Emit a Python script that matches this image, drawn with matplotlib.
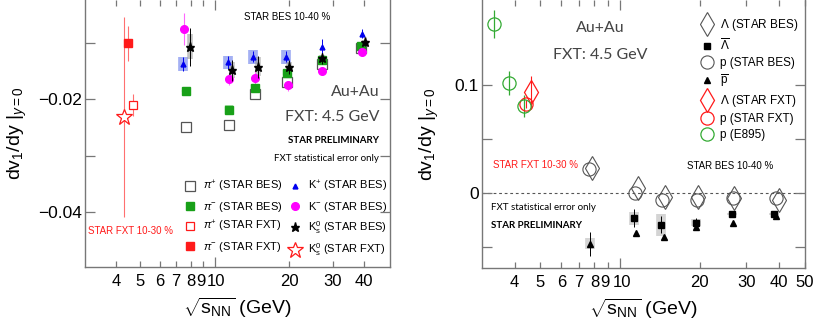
import numpy as np
import matplotlib
matplotlib.use('Agg')
import matplotlib.pyplot as plt
from matplotlib.ticker import FixedLocator, NullFormatter, FuncFormatter
from matplotlib.transforms import ScaledTranslation

plt.rcParams['font.family'] = ['Liberation Sans', 'DejaVu Sans']
plt.rcParams['mathtext.fontset'] = 'custom'
plt.rcParams['mathtext.rm'] = 'Liberation Sans'
plt.rcParams['mathtext.it'] = 'Liberation Sans:italic'
plt.rcParams['mathtext.bf'] = 'Liberation Sans:bold'

# ---------------- left panel: mesons ----------------
e_pi_bes = [7.70, 11.48, 14.60, 19.67, 27.02, 39.08]
v_pip_bes = [-0.0249, -0.0246, -0.0191, -0.0169, -0.0136, -0.0108]
s_pip_bes = [0.0003, 0.0004, 0.0006, 0.0004, 0.0004, 0.0003]
v_pim_bes = [-0.0185, -0.0218, -0.0180, -0.0152, -0.0130, -0.0105]
s_pim_bes = [0.0002, 0.0008, 0.0008, 0.0004, 0.0004, 0.0003]

e_kp_bes = [7.44, 11.31, 14.24, 19.39, 27.10, 39.30]
v_kp_bes = [-0.0137, -0.0134, -0.0124, -0.0124, -0.0106, -0.0083]
err_kp_bes = [0.0012, 0.0012, 0.0010, 0.0010, 0.0014, 0.0008]
s_kp_bes = [0.0013, 0.0012, 0.0012, 0.0012, 0.0, 0.0]

e_km_bes = [7.51, 11.38, 14.56, 19.80, 27.17, 39.30]
v_km_bes = [-0.0075, -0.0164, -0.0161, -0.0175, -0.0149, -0.0116]
err_km_bes = [0.0028, 0.0011, 0.0012, 0.0010, 0.0008, 0.0005]

e_k0_bes = [7.94, 11.73, 14.91, 19.98, 27.17, 40.55]
v_k0_bes = [-0.0106, -0.0148, -0.0142, -0.0142, -0.0127, -0.0098]
err_k0_bes = [0.0034, 0.0019, 0.0019, 0.0012, 0.0009, 0.0007]
s_k0_bes = [0.0022, 0.0014, 0.0017, 0.0008, 0.0006, 0.0004]

e_pim_fxt, v_pim_fxt, err_pim_fxt = [4.49], [-0.0100], [0.0031]
e_pip_fxt, v_pip_fxt, err_pip_fxt = [4.70], [-0.0210], [0.0020]
e_k0_fxt, v_k0_fxt, err_k0_fxt = [4.29], [-0.0231], [0.0178]

# ---------------- right panel: baryons ----------------
e_e895 = [3.33, 3.80, 4.32]
v_e895 = [0.156, 0.1016, 0.0806]
err_e895 = [0.013, 0.011, 0.010]

e_p_fxt, v_p_fxt, err_p_fxt = [4.42], [0.0825], [0.004]
e_lam_fxt, v_lam_fxt, err_lam_fxt = [4.61], [0.0933], [0.015]

e_p_bes = [7.64, 11.39, 14.47, 19.50, 26.71, 38.90]
v_p_bes = [0.0222, 0.0, -0.0064, -0.0062, -0.0046, -0.0046]
e_lam_bes = [7.87, 11.66, 14.77, 19.72, 26.88, 39.80]
v_lam_bes = [0.0231, 0.0046, -0.0031, -0.0031, -0.0046, -0.0062]

e_alam = [11.29, 14.27, 19.34, 26.54, 38.30]
v_alam = [-0.0228, -0.0290, -0.0271, -0.0194, -0.0194]
err_alam = [0.008, 0.008, 0.004, 0.002, 0.001]
s_alam = [0.006, 0.010, 0.003, 0.001, 0.001]

e_pbar = [7.71, 11.49, 14.68, 19.34, 26.71, 38.70]
v_pbar = [-0.0465, -0.0369, -0.0406, -0.0308, -0.0271, -0.0205]
err_pbar = [0.011, 0.002, 0.002, 0.002, 0.002, 0.001]
s_pbar = [0.005, 0.0, 0.0, 0.0, 0.0, 0.0]

green = '#18a018'
gray = '#555555'
red = '#ff1a1a'

fig = plt.figure(figsize=(8.19, 3.32), dpi=100)
ax1 = fig.add_axes([0.1038, 0.1958, 0.3724, 0.8042])
ax2 = fig.add_axes([0.5881, 0.1919, 0.3948, 0.8081])


def sys_box(ax, x, y, s, color, alpha=0.45, w=6):
    ax.errorbar(x, y, yerr=s, fmt='none', ecolor=color, elinewidth=w, alpha=alpha, capsize=0, zorder=1)


# left panel
sys_box(ax1, e_pi_bes, v_pip_bes, s_pip_bes, '#888888')
sys_box(ax1, e_pi_bes, v_pim_bes, s_pim_bes, '#4fc04f')
sys_box(ax1, e_kp_bes, v_kp_bes, s_kp_bes, '#5a70ea', alpha=0.55, w=7)
sys_box(ax1, e_k0_bes, v_k0_bes, s_k0_bes, '#999999', alpha=0.6, w=4)

h_pip = ax1.errorbar(e_pi_bes, v_pip_bes, fmt='s', ms=7, mfc='white', mec=gray, mew=0.9, zorder=3)
h_pim = ax1.errorbar(e_pi_bes, v_pim_bes, fmt='s', ms=5.5, color=green, zorder=3)
h_pipf = ax1.errorbar(e_pip_fxt, v_pip_fxt, yerr=err_pip_fxt, fmt='s', ms=6, mfc='white', mec=red,
                      ecolor='#ff7070', elinewidth=0.8, mew=0.9, zorder=3)
h_pimf = ax1.errorbar(e_pim_fxt, v_pim_fxt, yerr=err_pim_fxt, fmt='s', ms=6, color=red,
                      ecolor='#ff7070', elinewidth=0.8, zorder=3)
h_kp = ax1.errorbar(e_kp_bes, v_kp_bes, yerr=err_kp_bes, fmt='^', ms=3.5, color='#0000ee',
                    elinewidth=0.7, zorder=4)
h_km = ax1.errorbar(e_km_bes, v_km_bes, yerr=err_km_bes, fmt='o', ms=5.5, color='#ff00ff',
                    ecolor='#ff66ff', elinewidth=0.8, zorder=3)
h_k0 = ax1.errorbar(e_k0_bes, v_k0_bes, yerr=err_k0_bes, fmt='*', ms=6.5, color='black',
                    elinewidth=0.7, zorder=5)
h_k0f = ax1.errorbar(e_k0_fxt, v_k0_fxt, yerr=err_k0_fxt, fmt='*', ms=12, mfc='white', mec=red,
                     ecolor='#ff7070', elinewidth=0.8, mew=0.9, zorder=3)

handles1 = [h_pip[0], h_pim[0], h_pipf[0], h_pimf[0], h_kp[0], h_km[0], h_k0[0], h_k0f[0]]
labels1 = [r'$\pi^{+}$ (STAR BES)', r'$\pi^{-}$ (STAR BES)', r'$\pi^{+}$ (STAR FXT)', r'$\pi^{-}$ (STAR FXT)',
           r'K$^{+}$ (STAR BES)', r'K$^{-}$ (STAR BES)', r'K$^{0}_{\mathrm{s}}$ (STAR BES)',
           r'K$^{0}_{\mathrm{s}}$ (STAR FXT)']
ax1.legend(handles1, labels1, ncol=2, loc='upper left', bbox_to_anchor=(0.325, 0.33), frameon=False,
           fontsize=8, handlelength=1.0, handletextpad=0.7, columnspacing=0.6, labelspacing=0.5,
           borderpad=0, borderaxespad=0)

# right panel
ax2.axhline(0, color='#555555', lw=0.8, ls=(0, (2.5, 2.5)), zorder=0)
sys_box(ax2, e_alam, v_alam, s_alam, '#aaaaaa', alpha=0.5, w=7)
sys_box(ax2, e_pbar, v_pbar, s_pbar, '#aaaaaa', alpha=0.5, w=7)

h_lam = ax2.errorbar(e_lam_bes, v_lam_bes, fmt='d', ms=12, mfc='none', mec=gray, mew=0.8, zorder=3)
h_alam = ax2.errorbar(e_alam, v_alam, yerr=err_alam, fmt='s', ms=5, color='black', elinewidth=0.7, zorder=4)
h_p = ax2.errorbar(e_p_bes, v_p_bes, fmt='o', ms=9.5, mfc='none', mec=gray, mew=0.8, zorder=3)
h_pbar = ax2.errorbar(e_pbar, v_pbar, yerr=err_pbar, fmt='^', ms=5, color='black', elinewidth=0.7, zorder=4)
h_lamf = ax2.errorbar(e_lam_fxt, v_lam_fxt, yerr=err_lam_fxt, fmt='d', ms=12, mfc='none', mec=red,
                      ecolor=red, elinewidth=0.8, mew=0.9, zorder=3)
h_pf = ax2.errorbar(e_p_fxt, v_p_fxt, yerr=err_p_fxt, fmt='o', ms=9.5, mfc='none', mec=red,
                    ecolor=red, elinewidth=0.8, mew=0.9, zorder=3)
h_e895 = ax2.errorbar(e_e895, v_e895, yerr=err_e895, fmt='o', ms=9.5, mfc='none', mec='#33aa33',
                      ecolor='#33aa33', elinewidth=0.9, mew=0.9, zorder=3)

handles2 = [h_lam[0], h_alam[0], h_p[0], h_pbar[0], h_lamf[0], h_pf[0], h_e895[0]]
labels2 = [r'$\Lambda$ (STAR BES)', r'$\overline{\Lambda}$', r'p (STAR BES)', r'$\overline{\mathrm{p}}$',
           r'$\Lambda$ (STAR FXT)', r'p (STAR FXT)', r'p (E895)']
ax2.legend(handles2, labels2, loc='upper left', bbox_to_anchor=(0.68, 0.935), frameon=False,
           fontsize=8.5, handlelength=1.0, handletextpad=0.55, labelspacing=0.33,
           borderpad=0, borderaxespad=0)

# axes formatting
def tick_fmt(v, pos):
    return '%d' % round(v)


for ax, xmax, xt in [(ax1, 51, [4, 5, 6, 7, 8, 9, 20, 30, 40]),
                     (ax2, 50, [4, 5, 6, 7, 8, 9, 20, 30, 40, 50])]:
    ax.set_xscale('log')
    ax.set_xlim(3.0, xmax)
    ax.xaxis.set_major_locator(FixedLocator([10]))
    ax.xaxis.set_minor_locator(FixedLocator(xt))
    ax.xaxis.set_major_formatter(FuncFormatter(tick_fmt))
    ax.xaxis.set_minor_formatter(FuncFormatter(tick_fmt))
    for side in ax.spines.values():
        side.set_color('#777777')
        side.set_linewidth(1.0)
    ax.spines['top'].set_visible(False)
    ax.tick_params(which='both', direction='in', top=True, right=True, colors='#777777',
                   labelcolor='black', labelsize=12.5, width=0.9)
    ax.tick_params(axis='x', which='both', labelsize=12)
    ax.tick_params(axis='x', which='major', length=7, pad=5)
    ax.tick_params(axis='x', which='minor', length=4, pad=5)
    ax.tick_params(axis='y', which='both', length=7, pad=2)
    ax.set_xlabel(r'$\sqrt{\mathrm{s}_{\mathrm{NN}}}$ (GeV)', fontsize=14, labelpad=5)
    ax.set_ylabel(r'dv$_{1}$/dy |$_{y=0}$', fontsize=14)

    # "9" and "10" sit almost on top of each other: nudge them apart a little
    fig.canvas.draw()
    lab9 = ax.xaxis.get_minor_ticks()[5].label1
    lab9.set_transform(lab9.get_transform() + ScaledTranslation(-2.0 / 72, 0, fig.dpi_scale_trans))
    lab10 = ax.xaxis.get_major_ticks()[0].label1
    lab10.set_transform(lab10.get_transform() + ScaledTranslation(1.2 / 72, 0, fig.dpi_scale_trans))

ax1.set_ylim(-0.0498, -0.0023)
ax1.set_yticks([-0.04, -0.02])
ax1.set_yticklabels(['\u22120.04', '\u22120.02'])
ax1.set_yticks([-0.03, -0.01], minor=True)
ax1.yaxis.set_minor_formatter(NullFormatter())
ax1.yaxis.set_label_coords(-0.185, 0.5)

ax2.set_ylim(-0.0692, 0.1785)
ax2.set_yticks([0, 0.1])
ax2.set_yticklabels(['0', '0.1'])
ax2.set_yticks([-0.05, 0.05], minor=True)
ax2.yaxis.set_minor_formatter(NullFormatter())
ax2.yaxis.set_label_coords(-0.125, 0.5)

# annotations
lato = ['Lato', 'DejaVu Sans']
ax1.text(0.662, 0.936, 'STAR BES 10-40 %', transform=ax1.transAxes, fontsize=7, ha='center', va='center')
ax1.text(0.967, 0.655, 'Au+Au', transform=ax1.transAxes, fontsize=11.5, ha='right', va='center',
         color='#444444', family=lato)
ax1.text(0.967, 0.562, 'FXT: 4.5 GeV', transform=ax1.transAxes, fontsize=11.5, ha='right', va='center',
         color='#444444', family=lato)
ax1.text(0.963, 0.475, 'STAR PRELIMINARY', transform=ax1.transAxes, fontsize=7, ha='right', va='center',
         weight='bold', family=lato)
ax1.text(0.963, 0.408, 'FXT statistical error only', transform=ax1.transAxes, fontsize=7, ha='right',
         va='center', family=lato)
ax1.text(0.01, 0.135, 'STAR FXT 10-30 %', transform=ax1.transAxes, fontsize=7, ha='left', va='center',
         color=red)

ax2.text(0.366, 0.896, 'Au+Au', transform=ax2.transAxes, fontsize=11.5, ha='center', va='center',
         color='#444444', family=lato)
ax2.text(0.366, 0.795, 'FXT: 4.5 GeV', transform=ax2.transAxes, fontsize=11.5, ha='center', va='center',
         color='#444444', family=lato)
ax2.text(0.035, 0.385, 'STAR FXT 10-30 %', transform=ax2.transAxes, fontsize=7, ha='left', va='center',
         color=red)
ax2.text(0.635, 0.381, 'STAR BES 10-40 %', transform=ax2.transAxes, fontsize=7, ha='left', va='center')
ax2.text(0.029, 0.228, 'FXT statistical error only', transform=ax2.transAxes, fontsize=7, ha='left',
         va='center', family=lato)
ax2.text(0.029, 0.158, 'STAR PRELIMINARY', transform=ax2.transAxes, fontsize=7, ha='left', va='center',
         weight='bold', family=lato)

fig.savefig('out.png', dpi=100)
